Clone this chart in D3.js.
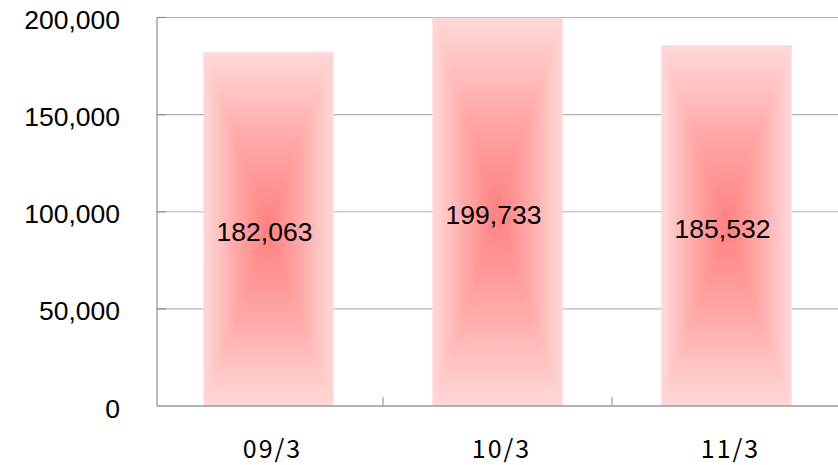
<!DOCTYPE html>
<html>
<head>
<meta charset="utf-8">
<script src="https://cdn.jsdelivr.net/npm/d3@7"></script>
<style>
  html, body { margin: 0; padding: 0; background: #ffffff; }
  svg { display: block; }
</style>
</head>
<body>
<script>
// ---- data ----
const categories = ["09/3", "10/3", "11/3"];
const values = [182063, 199733, 185532];
const yTicks = [0, 50000, 100000, 150000, 200000];

// ---- layout ----
const W = 838, H = 465;
const plotLeft = 157, plotRight = 838, plotTop = 17.5, plotBottom = 406;

const svg = d3.select("body").append("svg")
  .attr("width", W).attr("height", H);

const x = d3.scaleBand()
  .domain(categories)
  .range([154, 841])
  .paddingInner(0.433)
  .paddingOuter(0.2165);

const y = d3.scaleLinear()
  .domain([0, 200000])
  .range([plotBottom, plotTop]);

const fmt = d3.format(",");
const font = "'Liberation Sans', Arial, sans-serif";
const jpFont = "'Noto Sans CJK JP', 'Liberation Sans', sans-serif";

// gradients (rectangular "from center" look via 4 triangles)
const defs = svg.append("defs");
const stops = [[0, "#ffd8d8"], [0.1, "#ffcfcf"], [0.5, "#ffa8a8"], [0.85, "#ff8c8c"], [1, "#ff8080"]];
const dirs = {
  top:    {x1: 0, y1: 0, x2: 0, y2: 1},
  bottom: {x1: 0, y1: 1, x2: 0, y2: 0},
  left:   {x1: 0, y1: 0, x2: 1, y2: 0},
  right:  {x1: 1, y1: 0, x2: 0, y2: 0}
};
Object.entries(dirs).forEach(([k, d]) => {
  const g = defs.append("linearGradient").attr("id", "g-" + k)
    .attr("x1", d.x1).attr("y1", d.y1).attr("x2", d.x2).attr("y2", d.y2);
  stops.forEach(s => g.append("stop").attr("offset", s[0]).attr("stop-color", s[1]));
});

// gridlines
svg.append("g").selectAll("line")
  .data(yTicks.filter(t => t > 0))
  .join("line")
  .attr("x1", plotLeft).attr("x2", plotRight)
  .attr("y1", d => y(d)).attr("y2", d => y(d))
  .attr("stroke", "#b4b4b4").attr("stroke-width", 1.2);

// bars
const bars = svg.append("g");
categories.forEach((c, i) => {
  const x0 = x(c), x1 = x(c) + x.bandwidth();
  const y0 = y(values[i]), y1 = y(0);
  const cx = (x0 + x1) / 2, cy = (y0 + y1) / 2;
  const tris = {
    top:    [[x0, y0], [x1, y0], [cx, cy]],
    bottom: [[x0, y1], [x1, y1], [cx, cy]],
    left:   [[x0, y0], [x0, y1], [cx, cy]],
    right:  [[x1, y0], [x1, y1], [cx, cy]]
  };
  Object.entries(tris).forEach(([k, pts]) => {
    bars.append("polygon")
      .attr("points", pts.map(p => p.join(",")).join(" "))
      .attr("fill", "url(#g-" + k + ")")
      .attr("stroke", "url(#g-" + k + ")")
      .attr("stroke-width", 0.6)
      .attr("stroke-linejoin", "miter");
  });
});

// axes lines
svg.append("line")
  .attr("x1", plotLeft).attr("x2", plotLeft)
  .attr("y1", plotTop).attr("y2", plotBottom)
  .attr("stroke", "#8c8c8c").attr("stroke-width", 1.2);
svg.append("line")
  .attr("x1", plotLeft).attr("x2", plotRight)
  .attr("y1", plotBottom).attr("y2", plotBottom)
  .attr("stroke", "#9a9a9a").attr("stroke-width", 1.4);

// y tick marks (inside)
svg.append("g").selectAll("line")
  .data(yTicks.filter(t => t > 0))
  .join("line")
  .attr("x1", plotLeft).attr("x2", plotLeft + 9)
  .attr("y1", d => y(d)).attr("y2", d => y(d))
  .attr("stroke", "#8c8c8c").attr("stroke-width", 1.2);

// x tick marks at category boundaries (inside)
svg.append("g").selectAll("line")
  .data(categories.slice(1))
  .join("line")
  .attr("x1", d => x(d) - x.step() * x.paddingInner() / 2)
  .attr("x2", d => x(d) - x.step() * x.paddingInner() / 2)
  .attr("y1", plotBottom).attr("y2", plotBottom - 9)
  .attr("stroke", "#9a9a9a").attr("stroke-width", 1.2);

// y labels
svg.append("g").selectAll("text")
  .data(yTicks)
  .join("text")
  .attr("x", 120)
  .attr("y", d => y(d) + 11.5)
  .attr("text-anchor", "end")
  .attr("font-family", font)
  .attr("font-size", 26.5)
  .attr("fill", "#000")
  .text(d => fmt(d));

// x labels
svg.append("g").selectAll("text")
  .data(categories)
  .join("text")
  .attr("x", d => x(d) + x.bandwidth() / 2 + 4)
  .attr("y", 457.5)
  .attr("text-anchor", "middle")
  .attr("font-family", jpFont)
  .attr("font-size", 25)
  .attr("letter-spacing", 2)
  .attr("fill", "#000")
  .text(d => d);

// data labels
svg.append("g").selectAll("text")
  .data(categories)
  .join("text")
  .attr("x", d => x(d) + x.bandwidth() / 2 - 4)
  .attr("y", (d, i) => (y(values[i]) + y(0)) / 2 + 12)
  .attr("text-anchor", "middle")
  .attr("font-family", font)
  .attr("font-size", 26.5)
  .attr("fill", "#000")
  .text((d, i) => fmt(values[i]));
</script>
</body>
</html>
